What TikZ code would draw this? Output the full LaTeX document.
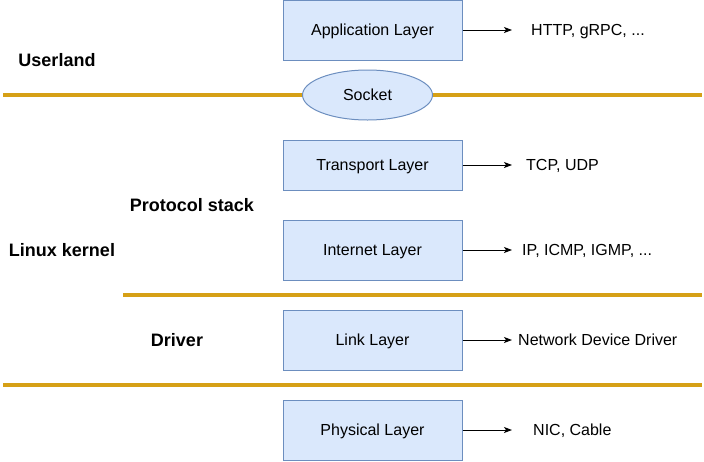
\documentclass[tikz,border=0pt]{standalone}
\usepackage{fontspec}
\setmainfont{Liberation Sans}
\usetikzlibrary{shapes.geometric,arrows.meta}
\definecolor{boxfill}{HTML}{DAE8FC}
\definecolor{boxline}{HTML}{6C8EBF}
\definecolor{gold}{RGB}{214,160,22}
\tikzset{
  txt/.style={font=\fontsize{16}{19}\selectfont, text height=14.5pt, text depth=3.4pt},
  layerbox/.style={txt, draw=boxline, fill=boxfill, line width=1pt, minimum width=179pt, inner sep=0pt},
  sep/.style={draw=gold, line width=4pt},
  arr/.style={-{Stealth[length=8pt,width=6pt,inset=2pt]}, line width=1pt},
  rlabel/.style={txt, anchor=west, inner sep=0pt},
  llabel/.style={inner sep=0pt, font=\fontsize{18}{21}\selectfont\bfseries, text height=16.3pt, text depth=3.8pt},
}
\begin{document}
\begin{tikzpicture}[x=1pt,y=-1pt]
\useasboundingbox (0,0) rectangle (704,461);
% separators
\node[txt, ellipse, draw=boxline, fill=boxfill, line width=1pt, minimum width=130pt, minimum height=50pt, inner sep=0pt] (socket) at (367.5,95) {Socket};
\coordinate (l1a) at (3,95);
\coordinate (l1b) at (702,95);
\coordinate (l2a) at (123,295);
\coordinate (l2b) at (702,295);
\coordinate (l3a) at (3,385);
\coordinate (l3b) at (702,385);
\draw[sep] (l1a) -- (socket.west);
\draw[sep] (socket.east) -- (l1b);
\draw[sep] (l2a) -- (l2b);
\draw[sep] (l3a) -- (l3b);
% layer boxes
\node[layerbox, minimum height=60pt] (app) at (372.5,30) {Application Layer};
\node[layerbox, minimum height=50pt] (trans) at (372.5,165) {Transport Layer};
\node[layerbox, minimum height=60pt] (inet) at (372.5,250) {Internet Layer};
\node[layerbox, minimum height=60pt] (link) at (372.5,340) {Link Layer};
\node[layerbox, minimum height=60pt] (phys) at (372.5,430) {Physical Layer};
% arrow ends
\coordinate (e1) at (512,30);
\coordinate (e2) at (512,165);
\coordinate (e3) at (512,250);
\coordinate (e4) at (512,340);
\coordinate (e5) at (512,430);
\draw[arr] (app.east) -- (e1);
\draw[arr] (trans.east) -- (e2);
\draw[arr] (inet.east) -- (e3);
\draw[arr] (link.east) -- (e4);
\draw[arr] (phys.east) -- (e5);
% right labels
\node[rlabel] (t1) at (531,30) {HTTP, gRPC, ...};
\node[rlabel] (t2) at (526,165) {TCP, UDP};
\node[rlabel] (t3) at (522,250) {IP, ICMP, IGMP, ...};
\node[rlabel] (t4) at (518,340) {Network Device Driver};
\node[rlabel] (t5) at (533,430) {NIC, Cable};
% left labels
\node[llabel] (userland) at (57,60) {Userland};
\node[llabel] (pstack) at (192,205) {Protocol stack};
\node[llabel] (kernel) at (62,250) {Linux kernel};
\node[llabel] (driver) at (177,340) {Driver};
\end{tikzpicture}
\end{document}
